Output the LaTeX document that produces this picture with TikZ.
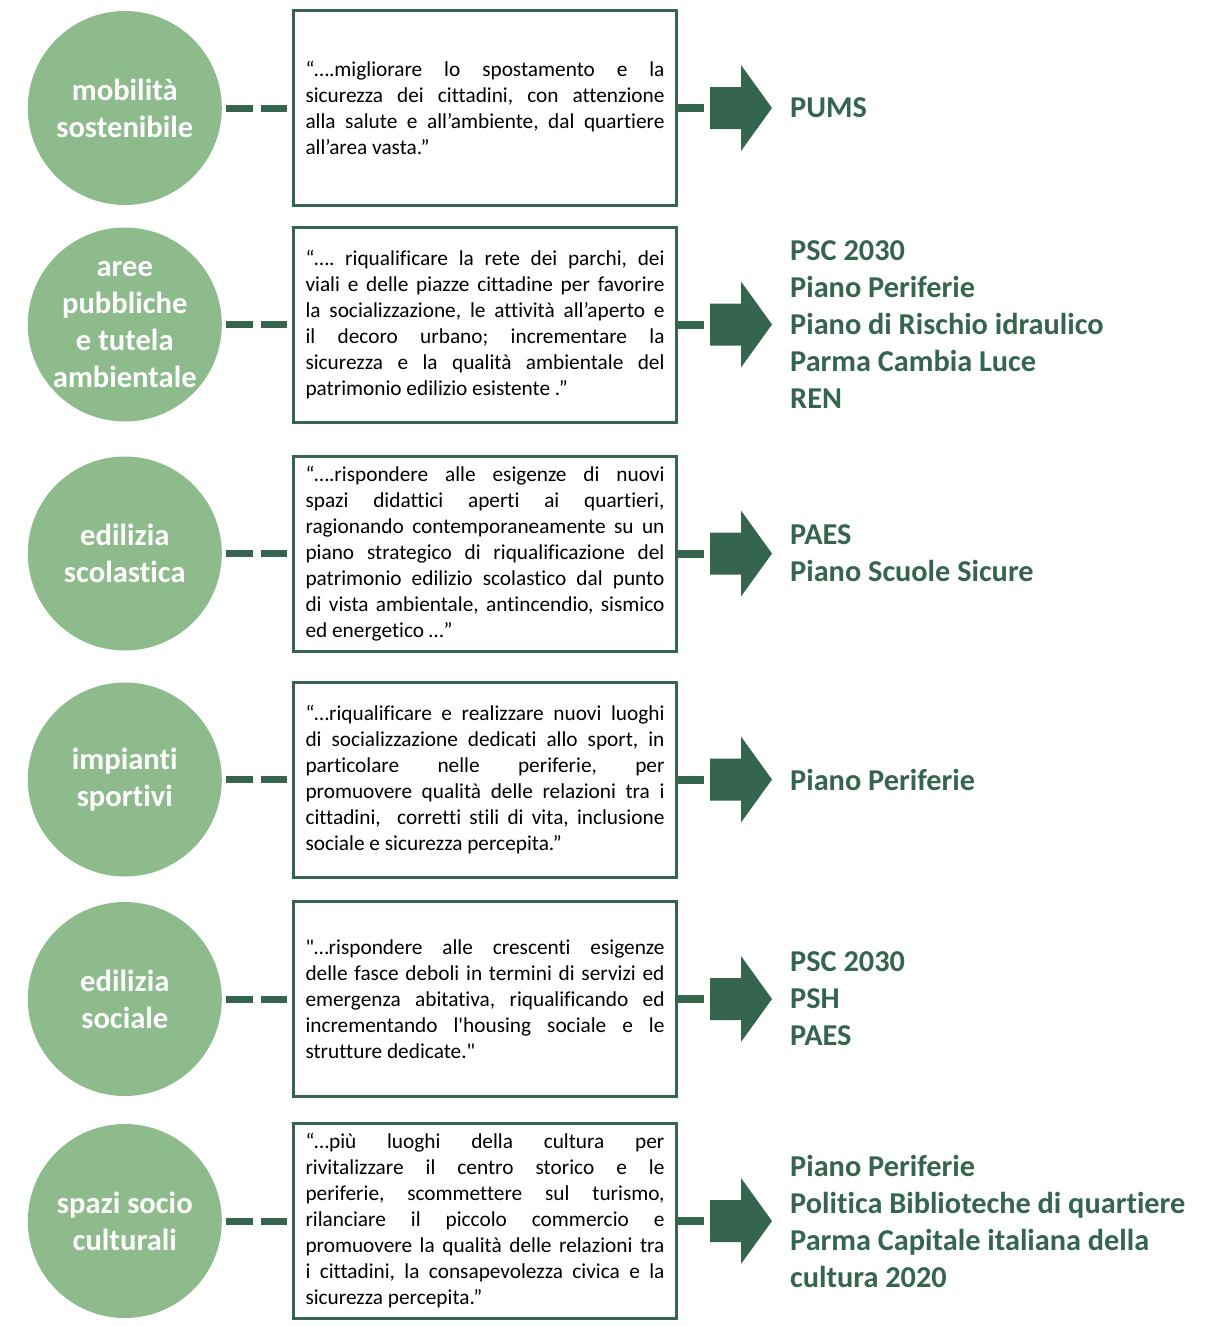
\documentclass[tikz,border=0pt]{standalone}
\usepackage{fontspec}
\newfontfamily\calib{Carlito}[Ligatures={NoCommon}]
\usepackage{xcolor}
\usetikzlibrary{positioning}
\definecolor{dkgreen}{HTML}{35644F}
\definecolor{ltgreen}{HTML}{8DBB8C}
\tolerance=10000
\frenchspacing

\tikzset{
  blockarrow/.pic={\fill[dkgreen] (0,-21) -- (31,-21) -- (31,-43) -- (62,0) -- (31,43) -- (31,21) -- (0,21) -- cycle;}
}

\begin{document}
\begin{tikzpicture}[
  x=1pt, y=-1pt,
  theme/.style={circle, fill=ltgreen, minimum size=194pt, inner sep=0pt, align=center, text=white, font=\calib\bfseries\fontsize{30.6}{37}\selectfont},
  quotebox/.style={draw=dkgreen, line width=3pt, minimum width=383pt, minimum height=195pt, text width=359pt, inner xsep=12pt, align=justify, font=\calib\fontsize{21.3}{26}\selectfont},
  planlist/.style={align=left, text=dkgreen, inner sep=0pt, font=\calib\bfseries\fontsize{30.3}{37}\selectfont},
  dashlink/.style={dkgreen, line width=7pt, dash pattern=on 27pt off 8pt, shorten <=4pt, shorten >=5pt},
  link/.style={dkgreen, line width=8pt, shorten >=6pt}
]
\useasboundingbox (0,0) rectangle (1208,1326);

% the six quotes, one under the other
\node[quotebox] (b1) at (485,108) {“….migliorare lo spostamento e la\linebreak sicurezza dei cittadini, con attenzione\linebreak alla salute e all’ambiente, dal quartiere\linebreak all’area vasta.”};
\node[quotebox, below=18.5pt of b1] (b2) {“…. riqualificare la rete dei parchi, dei\linebreak viali e delle piazze cittadine per favorire\linebreak la socializzazione, le attività all’aperto e\linebreak il decoro urbano; incrementare la\linebreak sicurezza e la qualità ambientale del\linebreak patrimonio edilizio esistente .”};
\node[quotebox, below=31pt of b2] (b3) {“….rispondere alle esigenze di nuovi\linebreak spazi didattici aperti ai quartieri,\linebreak ragionando contemporaneamente su un\linebreak piano strategico di riqualificazione del\linebreak patrimonio edilizio scolastico dal punto\linebreak di vista ambientale, antincendio, sismico\linebreak ed energetico …”};
\node[quotebox, below=28pt of b3] (b4) {“…riqualificare e realizzare nuovi luoghi\linebreak di socializzazione dedicati allo sport, in\linebreak particolare nelle periferie, per\linebreak promuovere qualità delle relazioni tra i\linebreak cittadini,\ \ corretti stili di vita, inclusione\linebreak sociale e sicurezza percepita.”};
\node[quotebox, below=21.5pt of b4] (b5) {"…rispondere alle crescenti esigenze\linebreak delle fasce deboli in termini di servizi ed\linebreak emergenza abitativa, riqualificando ed\linebreak incrementando l'housing sociale e le\linebreak strutture dedicate."};
\node[quotebox, below=24pt of b5] (b6) {“…più luoghi della cultura per\linebreak rivitalizzare il centro storico e le\linebreak periferie, scommettere sul turismo,\linebreak rilanciare il piccolo commercio e\linebreak promuovere la qualità delle relazioni tra\linebreak i cittadini, la consapevolezza civica e la\linebreak sicurezza percepita.”};

% themes on the left
\node[theme, left=70pt of b1] (c1) {mobilità\\sostenibile};
\node[theme, left=70pt of b2] (c2) {aree\\pubbliche\\e tutela\\ambientale};
\node[theme, left=70pt of b3] (c3) {edilizia\\scolastica};
\node[theme, left=70pt of b4] (c4) {impianti\\sportivi};
\node[theme, left=70pt of b5] (c5) {edilizia\\sociale};
\node[theme, left=70pt of b6] (c6) {spazi socio\\culturali};

% arrows on the right
\foreach \i in {1,...,6}{
  \coordinate[right=32pt of b\i] (a\i);
  \pic at (a\i) {blockarrow};
  \draw[dashlink] (c\i) -- (b\i);
  \draw[link] (b\i) -- (a\i);
}
\node[planlist, right=80pt of a1] (p1) {PUMS};
\node[planlist, right=80pt of a2] (p2) {PSC 2030\\Piano Periferie\\Piano di Rischio idraulico\\Parma Cambia Luce\\REN};
\node[planlist, right=80pt of a3] (p3) {PAES\\Piano Scuole Sicure};
\node[planlist, right=80pt of a4] (p4) {Piano Periferie};
\node[planlist, right=80pt of a5] (p5) {PSC 2030\\PSH\\PAES};
\node[planlist, right=80pt of a6] (p6) {Piano Periferie\\Politica Biblioteche di quartiere\\Parma Capitale italiana della\\cultura 2020};
\end{tikzpicture}
\end{document}
